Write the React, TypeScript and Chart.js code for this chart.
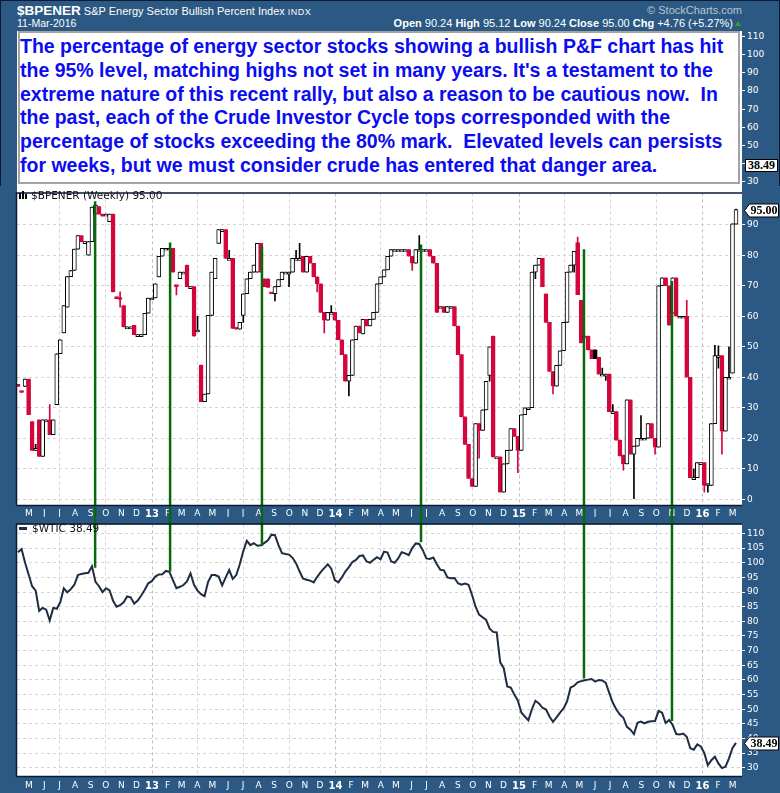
import React, { useEffect, useRef } from 'react';
import { Chart, registerables } from 'chart.js';

Chart.register(...registerables);

const FRAME = '#2b5983';
const RED = '#d3063c';
const GREEN = '#08690c';
const WTI_LINE = '#1e2c44';
const GRID = '#d4d4d4';
const AXIS_FONT = '"DejaVu Sans", Verdana, sans-serif';

// Weekly bars: index 0 = week of 13-Apr-2012 ... index 204 = week of 11-Mar-2016
const WEEK0 = Date.UTC(2012, 3, 9, 12);
const WEEK_MS = 7 * 86400000;

const bpiOpen = [
  37.7, 35.5, 37, 39.4, 25.5, 16, 26, 14, 26, 26,
  21.2, 31, 47.7, 54.5, 63, 73, 75, 82, 86.5, 84.5,
  80, 84.5, 93.5, 96, 93.5, 93.5, 91, 93.5, 66.2, 66,
  63.5, 56.5, 56.5, 57, 54, 54, 54, 61, 66, 66,
  72.9, 79.7, 82.3, 82.3, 82.3, 70, 72.3, 74.5, 76.8, 69.7,
  69.7, 55.5, 44, 32, 34.5, 60.3, 72.3, 83.9, 88.4, 88.4,
  79, 79, 56, 55.8, 60.3, 67.4, 72.3, 74.5, 74.5, 83.9,
  72.3, 72.3, 67.6, 67.4, 69.7, 72, 74.5, 74.5, 74.5, 79,
  79, 79.7, 74.5, 79.7, 77.4, 72.9, 70.6, 61.3, 58.7, 61.3,
  61.3, 58.7, 52.3, 47.4, 38.7, 40.6, 52.3, 56.8, 54.2, 59,
  56.8, 59, 61.3, 70.6, 72.9, 75.2, 79.7, 81.9, 81.9, 81.9,
  81.9, 81.9, 79.7, 77.4, 81.9, 81.9, 81.9, 81.9, 79.7, 77.4,
  63.2, 63.2, 61.3, 63.2, 63.2, 56.8, 47.4, 27, 18, 6.8,
  4.2, 24.8, 22.6, 29.3, 40.6, 53.5, 13.9, 13.9, 2.3, 11.6,
  16, 23.2, 20.6, 16, 27.7, 30, 30, 74.5, 76.8, 79,
  67.4, 58, 41.9, 37.1, 43.9, 48.7, 58, 74.5, 76.8, 84.2,
  65.2, 53.5, 53.5, 49, 49, 46.5, 41, 41, 41, 28.7,
  28.7, 19.4, 14.5, 11.6, 32.6, 14.8, 17.4, 20, 20, 20,
  24.8, 20, 17.1, 70, 72.6, 70, 61, 72.6, 60, 60,
  60, 40, 7.1, 7.1, 12, 12, 4.5, 4.5, 24.8, 47.1,
  47.1, 22.3, 40, 41.3, 90.24,
];

const bpiClose = [
  37, 35, 39.4, 27.7, 16, 16.5, 14, 26, 26, 21.2,
  26, 47.7, 52.3, 63.5, 73, 75, 82, 86.5, 84.5, 84.5,
  84.5, 95.8, 96.5, 93.5, 92.8, 93.5, 93.5, 68, 65.8, 65.5,
  56.5, 56.5, 56.5, 54, 54, 54, 61, 66, 66, 70.6,
  79.7, 82.3, 82.3, 82.3, 74.5, 69.7, 74.5, 74.5, 69.7, 69.7,
  53.5, 55.5, 32, 34.5, 60.3, 74.5, 79, 88.4, 88.4, 79,
  79, 56, 55.8, 58, 67.4, 72.3, 74.5, 76.8, 83.9, 74.5,
  69.7, 69.5, 67.4, 69.7, 72, 74.5, 74.5, 74.5, 79, 79,
  79, 74.5, 79.7, 77.4, 72.9, 70.6, 61.3, 58.7, 61.3, 61.3,
  58.7, 52.3, 47.4, 38.7, 40.6, 52.3, 56.8, 54.5, 59, 56.8,
  59, 61.3, 70.6, 72.9, 75.2, 79.7, 81.9, 81.9, 81.9, 81.9,
  81.9, 79.7, 77.4, 81.9, 81.9, 81.9, 81.9, 79.7, 77.4, 61.3,
  63.2, 61.3, 63.2, 63.2, 56.8, 47.4, 27, 18, 6.8, 4.2,
  24.8, 22.6, 29.3, 38.7, 50, 13.9, 13.9, 2.3, 11.6, 16,
  23.2, 20.6, 16, 27.7, 30, 30, 74.5, 76.8, 79, 69.7,
  58, 41.9, 37.1, 43.9, 48.7, 58, 74.5, 76.8, 81.3, 67.1,
  51.3, 53.5, 49, 46.1, 46.1, 41, 41, 41, 28.7, 28.7,
  19.4, 14.2, 11.6, 32.6, 14.8, 17.4, 20, 20, 20, 24.8,
  20, 17.1, 70, 72.6, 70, 57.1, 72.6, 60, 60, 60,
  40, 7.1, 7.1, 12, 12, 4.5, 5, 24.8, 47.1, 47.1,
  22.3, 40, 40, 90.3, 95,
];

// wick extremes (null = no wick beyond the body)
const bpiHigh: (number | null)[] = bpiClose.map(() => null);
const bpiLow: (number | null)[] = bpiClose.map(() => null);
const highWicks: [number, number][] = [
  [5, 18], [9, 31], [29, 68], [51, 60], [60, 81.6], [79, 81.6], [80, 83.9], [89, 63.5],
  [114, 86.5], [159, 86], [166, 43], [169, 31], [177, 27.4], [190, 65.2], [192, 10],
  [198, 50.5], [199, 50.3], [202, 50], [204, 95.12],
];
const lowWicks: [number, number][] = [
  [29, 63], [45, 67], [64, 58], [73, 65], [77, 69.7], [85, 68], [87, 54.5], [94, 33.9],
  [112, 75], [131, 13.5], [134, 38.7], [142, 8.7], [147, 72.3], [152, 34.5], [158, 74.5],
  [167, 39], [172, 9.5], [175, 0], [181, 14.8], [195, 2.3], [196, 2.3], [198, 40], [199, 43], [200, 14.8],
];
highWicks.forEach(([i, v]) => { bpiHigh[i] = v; });
lowWicks.forEach(([i, v]) => { bpiLow[i] = v; });

const wtiClose = [
  103.6, 104.7, 100, 96, 92, 90.5, 83.6, 84.6, 84, 80.3,
  84.6, 84.3, 86.5, 91.3, 89.9, 91, 92.5, 95.8, 96.2, 96.4,
  96.6, 98.8, 93.5, 92, 90, 91.3, 90.6, 87, 85, 85.5,
  86.5, 88.5, 88.2, 86, 87.1, 88.8, 90.8, 93, 93.7, 95.3,
  96, 96.1, 97.2, 96.9, 94.1, 91.3, 91.8, 92.4, 93.6, 96.4,
  92.5, 90.5, 89.3, 88.6, 93.5, 95.8, 95.8, 95.3, 92.3, 95,
  97.5, 94.5, 95.8, 99.5, 104, 107.5, 106, 106.7, 105.8, 106,
  106.8, 107.7, 109.6, 109.4, 106, 103.3, 103, 102.8, 101.7, 99.8,
  97, 94.6, 94.2, 93.9, 93.3, 95.2, 96.8, 98.2, 99.5, 98,
  94.1, 93.3, 95, 97, 98.5, 100.3, 101, 102.3, 102.5, 100.5,
  100, 101, 101.9, 101.2, 103.8, 103.5, 100.5, 100, 101.5, 103.6,
  103.2, 102.6, 105, 106.6, 106.4, 104.3, 101.5, 101.3, 101.8, 99.5,
  97.6, 97.4, 95, 94.7, 94.8, 93, 92.5, 92.9, 92.5, 89,
  85, 82.3, 81.4, 80.5, 77.5, 76.4, 76.2, 66, 64, 57.8,
  57.4, 55, 53, 48.9, 47.5, 46.2, 50, 52.9, 52, 50.5,
  49.9, 47.5, 45.7, 47.2, 48.8, 50.3, 52.7, 57.4, 58, 59.2,
  59.6, 59.9, 60.1, 60.3, 59.4, 60, 59.8, 59, 55.5, 52.2,
  49.9, 48.2, 47.1, 44, 43, 41.5, 45.4, 45.8, 45.2, 45.7,
  45.9, 46, 49.4, 48.8, 45.3, 46.3, 44.6, 41.5, 41.4, 41.7,
  40.6, 36.7, 36.2, 38, 37.3, 35, 30.9, 32.6, 33.8, 31.5,
  29.9, 30.4, 33.2, 36.8, 38.49,
];

const bpiTicks = [0, 10, 20, 30, 40, 50, 60, 70, 80, 90];
const wtiTicks = [30, 35, 40, 45, 50, 55, 60, 65, 70, 75, 80, 85, 90, 95, 100, 105, 110];
const headerTicks = [110, 100, 90, 80, 70, 60, 50, 40, 30];
const monthLetters = ['J', 'F', 'M', 'A', 'M', 'J', 'J', 'A', 'S', 'O', 'N', 'D'];

// Crude Investor Cycle tops: week position, BPI level, WTIC level
const cycleTopWeek = [21.9, 43.2, 69.3, 114.5, 160.8, 185.8];
const cycleTopBpi = [97.7, 84.2, 83, 83.5, 82, 71.6];
const cycleTopWti = [98.3, 97, 105.7, 107, 60.5, 46];

const noteLines = [
  'The percentage of energy sector stocks showing a bullish P&F chart has hit',
  "the 95% level, matching highs not set in many years. It's a testament to the",
  'extreme nature of this recent rally, but also a reason to be cautious now.  In',
  'the past, each of the Crude Investor Cycle tops corresponded with the',
  'percentage of stocks exceeding the 80% mark.  Elevated levels can persists',
  'for weeks, but we must consider crude has entered that danger area.',
];

const X_MIN = -0.3;
const X_MAX = 205.7;

function buildMonthTicks() {
  const out: { value: number; label: string; month: number }[] = [];
  let y = 2012;
  let m = 4;
  while (y < 2016 || (y === 2016 && m <= 2)) {
    out.push({
      value: (Date.UTC(y, m, 1) - WEEK0) / WEEK_MS,
      label: m === 0 ? String(y % 100) : monthLetters[m],
      month: m,
    });
    m += 1;
    if (m === 12) { m = 0; y += 1; }
  }
  return out;
}
const monthTicks = buildMonthTicks();

const panelFrame = {
  id: 'panelFrame',
  beforeDraw(chart: any, _a: any, opts: any) {
    const { ctx, chartArea: a, width, height } = chart;
    ctx.save();
    ctx.fillStyle = FRAME;
    ctx.fillRect(0, 0, width, height);
    ctx.fillStyle = '#fff';
    const top = opts.whiteAbove ? 0 : a.top;
    ctx.fillRect(a.left, top, a.right - a.left, a.bottom - top);
    ctx.restore();
  },
  afterDraw(chart: any, _a: any, opts: any) {
    const { ctx, chartArea: a } = chart;
    ctx.save();
    ctx.strokeStyle = '#0c1a33';
    ctx.lineWidth = 1.5;
    ctx.beginPath();
    ctx.moveTo(a.left - 0.5, a.bottom + 0.5);
    ctx.lineTo(a.left - 0.5, a.top - 0.5);
    ctx.lineTo(a.right, a.top - 0.5);
    ctx.moveTo(a.left - 0.5, a.bottom + 0.5);
    ctx.lineTo(a.right, a.bottom + 0.5);
    ctx.stroke();
    if (opts.marker != null) {
      const y = Math.round(chart.scales.y.getPixelForValue(opts.marker)) + 0.5;
      const x0 = a.right + 2.5;
      const x1 = chart.width - 1.5;
      ctx.lineWidth = 1;
      ctx.fillStyle = '#fff';
      ctx.strokeStyle = '#000';
      ctx.beginPath();
      ctx.moveTo(x0, y);
      ctx.lineTo(x0 + 5, y - 6.5);
      ctx.lineTo(x1, y - 6.5);
      ctx.lineTo(x1, y + 6.5);
      ctx.lineTo(x0 + 5, y + 6.5);
      ctx.closePath();
      ctx.fill();
      ctx.stroke();
      ctx.fillStyle = '#000';
      ctx.font = 'bold 12px "Liberation Serif", "Times New Roman", serif';
      ctx.textAlign = 'center';
      ctx.textBaseline = 'middle';
      ctx.fillText(opts.marker.toFixed(2), (x0 + 5 + x1) / 2, y + 0.5);
    }
    ctx.restore();
  },
};

function xScale(bandHeight: number, pad: number) {
  return {
    type: 'linear' as const,
    min: X_MIN,
    max: X_MAX,
    offset: false,
    afterBuildTicks: (s: any) => { s.ticks = monthTicks.map((t) => ({ value: t.value })); },
    afterFit: (s: any) => { s.height = bandHeight; },
    ticks: {
      autoSkip: false,
      maxRotation: 0,
      minRotation: 0,
      padding: pad,
      color: '#ffffff',
      font: (c: any) => {
        const t = monthTicks[c.index];
        return t && t.month === 0
          ? { family: AXIS_FONT, size: 10, weight: 'bold' as const }
          : { family: AXIS_FONT, size: 9 };
      },
      callback: (_v: any, i: number) => (monthTicks[i] ? monthTicks[i].label : ''),
    },
    grid: {
      offset: false,
      drawTicks: false,
      lineWidth: 1,
      color: (c: any) => {
        const t = monthTicks[c.index];
        if (!t) return 'rgba(0,0,0,0)';
        if (t.month === 0) return '#bdbdbd';
        return t.month % 3 === 0 ? GRID : 'rgba(0,0,0,0)';
      },
    },
    border: { display: false, dash: [3, 3] },
  };
}

function yScale(min: number, max: number, ticks: number[]) {
  return {
    type: 'linear' as const,
    position: 'right' as const,
    min,
    max,
    afterBuildTicks: (s: any) => { s.ticks = ticks.map((v) => ({ value: v })); },
    afterFit: (s: any) => { s.width = 38; },
    ticks: {
      color: '#ffffff',
      padding: 2,
      font: { family: AXIS_FONT, size: 9 },
      callback: (v: any) => String(v),
    },
    grid: { color: GRID, tickColor: '#ffffff', tickLength: 3, drawTicks: true, lineWidth: 1 },
    border: { display: false, dash: [3, 3] },
  };
}

function candleColor(i: number) {
  const prev = i > 0 ? bpiClose[i - 1] : bpiOpen[0];
  return bpiClose[i] < prev ? RED : '#000000';
}
function candleFill(i: number) {
  return bpiClose[i] < bpiOpen[i] ? candleColor(i) : '#ffffff';
}

export default function App() {
  const topRef = useRef<HTMLCanvasElement>(null);
  const botRef = useRef<HTMLCanvasElement>(null);

  useEffect(() => {
    const idx = bpiClose.map((_, i) => i);
    const bodies = idx.map((i) => ({ x: i, y: [bpiOpen[i], bpiClose[i]] }));
    const wicks = idx.map((i) => ({
      x: i,
      y: [
        bpiLow[i] ?? Math.min(bpiOpen[i], bpiClose[i]),
        bpiHigh[i] ?? Math.max(bpiOpen[i], bpiClose[i]),
      ],
    }));

    const topGreen = cycleTopWeek.map((w, j) => ({
      type: 'line' as const,
      data: [{ x: w, y: cycleTopBpi[j] }, { x: w, y: -14 }],
      borderColor: GREEN,
      borderWidth: 2.5,
      pointRadius: 0,
      clip: false as any,
      order: 0,
    }));

    const top = new Chart(topRef.current as HTMLCanvasElement, {
      type: 'bar',
      data: {
        datasets: [
          {
            type: 'bar',
            data: wicks as any,
            backgroundColor: idx.map(candleColor),
            borderWidth: 0,
            barThickness: 1,
            grouped: false,
            order: 2,
          } as any,
          {
            type: 'bar',
            data: bodies as any,
            backgroundColor: idx.map(candleFill),
            borderColor: idx.map(candleColor),
            borderWidth: 1,
            borderSkipped: false,
            barThickness: 4,
            minBarLength: 2,
            grouped: false,
            order: 1,
          } as any,
          ...topGreen,
        ] as any,
      },
      options: {
        animation: false,
        responsive: false,
        devicePixelRatio: 1,
        layout: { padding: { left: 17, top: 2, right: 0, bottom: 0 } },
        plugins: {
          legend: { display: false },
          tooltip: { enabled: false },
          panelFrame: { whiteAbove: true, marker: bpiClose[bpiClose.length - 1] },
        } as any,
        scales: {
          x: xScale(12, 3) as any,
          y: yScale(-1.9, 100.3, bpiTicks) as any,
        },
      },
      plugins: [panelFrame],
    });

    const botGreen = cycleTopWeek.map((w, j) => ({
      data: [{ x: w, y: 118 }, { x: w, y: cycleTopWti[j] }],
      borderColor: GREEN,
      borderWidth: 2.5,
      pointRadius: 0,
      clip: false as any,
      order: 0,
    }));

    const bot = new Chart(botRef.current as HTMLCanvasElement, {
      type: 'line',
      data: {
        datasets: [
          {
            data: idx.map((i) => ({ x: i, y: wtiClose[i] })),
            borderColor: WTI_LINE,
            borderWidth: 2,
            pointRadius: 0,
            tension: 0,
            order: 1,
          },
          ...botGreen,
        ] as any,
      },
      options: {
        animation: false,
        responsive: false,
        devicePixelRatio: 1,
        layout: { padding: { left: 17, top: 3, right: 0, bottom: 2 } },
        plugins: {
          legend: { display: false },
          tooltip: { enabled: false },
          panelFrame: { whiteAbove: false, marker: wtiClose[wtiClose.length - 1] },
        } as any,
        scales: {
          x: xScale(15, 4) as any,
          y: yScale(27.2, 113.1, wtiTicks) as any,
        },
      },
      plugins: [panelFrame],
    });

    return () => {
      top.destroy();
      bot.destroy();
    };
  }, []);

  const white = '#ffffff';
  const headerTop = 36;
  const headerStep = (181 - 36) / 8;

  return (
    <div
      style={{
        position: 'absolute',
        left: 0,
        top: 0,
        width: 780,
        height: 793,
        background: FRAME,
        overflow: 'hidden',
        fontFamily: 'Arial, "Liberation Sans", sans-serif',
        boxShadow: 'inset 0 0 0 1px #0c1a33',
      }}
    >
      {/* title bar */}
      <div style={{ position: 'absolute', left: 17, top: 2, color: white, whiteSpace: 'nowrap', lineHeight: '16px' }}>
        <span style={{ fontWeight: 'bold', fontSize: 13.5 }}>$BPENER</span>
        <span style={{ fontSize: 11 }}> S&amp;P Energy Sector Bullish Percent Index </span>
        <span style={{ fontSize: 9, letterSpacing: 0.5 }}>INDX</span>
      </div>
      <div style={{ position: 'absolute', left: 17, top: 17, color: white, fontSize: 10.5, lineHeight: '12px', whiteSpace: 'nowrap' }}>
        11-Mar-2016
      </div>
      <div style={{ position: 'absolute', right: 38, top: 4, color: '#b7c4d2', fontSize: 11, lineHeight: '12px', whiteSpace: 'nowrap' }}>
        © StockCharts.com
      </div>
      <div style={{ position: 'absolute', right: 47, top: 17, color: white, fontSize: 11, lineHeight: '12px', whiteSpace: 'nowrap' }}>
        <b>Open</b> 90.24 <b>High</b> 95.12 <b>Low</b> 90.24 <b>Close</b> 95.00 <b>Chg</b> +4.76 (+5.27%)
      </div>
      <div
        style={{
          position: 'absolute', left: 735, top: 21, width: 0, height: 0,
          borderLeft: '3.5px solid transparent', borderRight: '3.5px solid transparent', borderBottom: '5px solid #3a9a3a',
        }}
      />

      {/* upper (overlaid) panel with the note */}
      <div style={{ position: 'absolute', left: 17, top: 31, width: 725, height: 157, background: white }} />
      {headerTicks.map((v, i) => (
        <div
          key={v}
          style={{
            position: 'absolute', left: 742, top: headerTop + i * headerStep - 6, color: white,
            fontFamily: AXIS_FONT, fontSize: 9, lineHeight: '12px', whiteSpace: 'nowrap',
          }}
        >
          <span style={{ display: 'inline-block', width: 3, height: 1, background: white, verticalAlign: 'middle', marginRight: 2 }} />
          {v}
        </div>
      ))}
      <div
        style={{
          position: 'absolute', left: 745, top: 159, width: 33, height: 13, background: white,
          border: '1px solid #000', boxSizing: 'border-box', textAlign: 'center',
          font: 'bold 12px "Liberation Serif", serif', lineHeight: '11px', color: '#000',
        }}
      >
        38.49
      </div>
      <div
        style={{
          position: 'absolute', left: 18, top: 31, width: 722, height: 153, boxSizing: 'border-box',
          border: '2px solid #a3a3a3', background: white,
        }}
      />
      <div
        style={{
          position: 'absolute', left: 20, top: 35, color: '#0c0cf0', fontWeight: 'bold', fontSize: 19.5,
          lineHeight: '23.8px', whiteSpace: 'pre', fontFamily: 'Arial, "Liberation Sans", sans-serif',
        }}
      >
        {noteLines.join('\n')}
      </div>

      <canvas ref={topRef} width={780} height={331} style={{ position: 'absolute', left: 0, top: 186 }} />
      <canvas ref={botRef} width={780} height={276} style={{ position: 'absolute', left: 0, top: 517 }} />

      {/* panel legends */}
      <div style={{ position: 'absolute', left: 19, top: 191, width: 10, height: 9 }}>
        <div style={{ position: 'absolute', left: 0, top: 2, width: 2, height: 6, background: '#000' }} />
        <div style={{ position: 'absolute', left: 3, top: 0, width: 2, height: 8, background: '#000' }} />
        <div style={{ position: 'absolute', left: 6, top: 3, width: 2, height: 5, background: '#000' }} />
      </div>
      <div style={{ position: 'absolute', left: 31, top: 189, fontFamily: AXIS_FONT, fontSize: 10.5, lineHeight: '13px', color: '#111', whiteSpace: 'nowrap' }}>
        $BPENER (Weekly) 95.00
      </div>
      <div style={{ position: 'absolute', left: 19, top: 527, width: 8, height: 2.5, background: WTI_LINE }} />
      <div style={{ position: 'absolute', left: 32, top: 522, fontFamily: AXIS_FONT, fontSize: 10.5, lineHeight: '13px', color: '#111', whiteSpace: 'nowrap' }}>
        $WTIC 38.49
      </div>
    </div>
  );
}
